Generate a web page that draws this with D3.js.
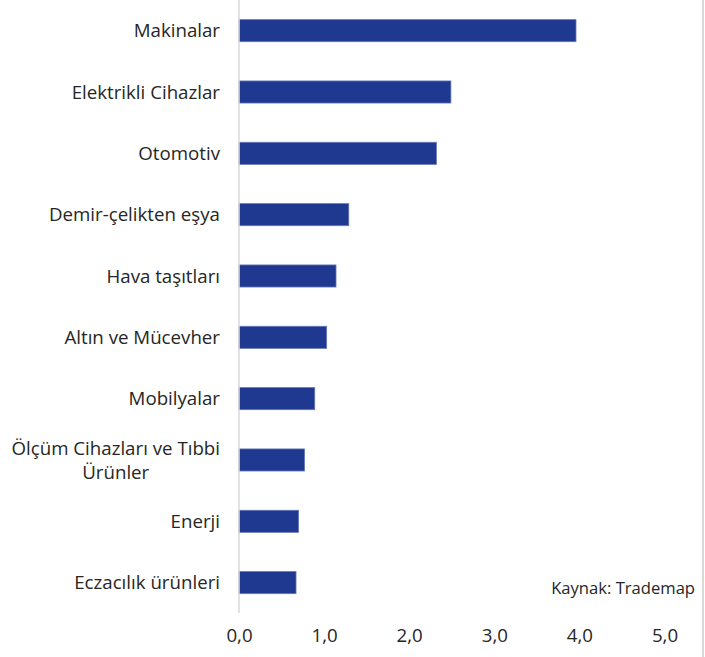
<!DOCTYPE html>
<html><head><meta charset="utf-8">
<script src="https://cdn.jsdelivr.net/npm/d3@7"></script>
<style>
html,body{margin:0;padding:0;background:#fff;}
svg{display:block;}
text{font-family:"Open Sans",sans-serif;fill:#262626;}
</style></head>
<body><svg id="c" width="705" height="657"></svg>
<script>
const categories = ["Makinalar","Elektrikli Cihazlar","Otomotiv","Demir-çelikten eşya","Hava taşıtları","Altın ve Mücevher","Mobilyalar","Ölçüm Cihazları ve Tıbbi Ürünler","Enerji","Eczacılık ürünleri"];
const values = [3.96, 2.49, 2.32, 1.29, 1.14, 1.03, 0.89, 0.77, 0.70, 0.67];
const tickValues = [0,1,2,3,4,5];
const tickLabels = ["0,0","1,0","2,0","3,0","4,0","5,0"];
const sourceNote = "Kaynak: Trademap";

const svg = d3.select("#c");
const x = d3.scaleLinear().domain([0,5]).range([239, 664.5]);
const y = d3.scaleBand().domain(categories).range([0, 613.3]).paddingInner(0.64).paddingOuter(0.32);

svg.append("line").attr("x1",703).attr("x2",703).attr("y1",0).attr("y2",657)
  .attr("stroke","#d9d9d9").attr("stroke-width",2);

svg.append("g").selectAll("rect").data(categories).join("rect")
  .attr("x", x(0))
  .attr("y", d => y(d))
  .attr("width", (d,i) => x(values[i]) - x(0))
  .attr("height", y.bandwidth())
  .attr("fill", "#203990")
  .attr("stroke", "#6477b8").attr("stroke-width", 0.8);

svg.append("line").attr("x1",x(0)).attr("x2",x(0)).attr("y1",0).attr("y2",613)
  .attr("stroke","#d9d9d9").attr("stroke-width",1.5);

const fs = 18.7;
const lab = svg.append("g");
categories.forEach((c) => {
  const cy = y(c) + y.bandwidth()/2;
  if (c.startsWith("Ölçüm")) {
    const t1 = lab.append("text").attr("x",220).attr("y",cy-12).attr("dy","0.35em")
      .attr("text-anchor","end").style("font-size",fs+"px").text("Ölçüm Cihazları ve Tıbbi");
    const w = t1.node().getComputedTextLength();
    lab.append("text").attr("x",220 - w/2).attr("y",cy+12).attr("dy","0.35em")
      .attr("text-anchor","middle").style("font-size",fs+"px").text("Ürünler");
  } else {
    lab.append("text").attr("x",220).attr("y",cy).attr("dy","0.35em")
      .attr("text-anchor","end").style("font-size",fs+"px").text(c);
  }
});

const xAxis = d3.axisBottom(x).tickValues(tickValues).tickSize(0).tickPadding(0)
  .tickFormat((d,i) => tickLabels[i]);
const gx = svg.append("g").attr("transform","translate(0,629)").call(xAxis);
gx.select(".domain").remove();
gx.selectAll("text").attr("dy","0.71em").style("font-size",fs+"px").style("font-family","'Open Sans',sans-serif").attr("fill","#262626");

svg.append("text").attr("x",695).attr("y",588).attr("dy","0.35em").attr("text-anchor","end")
  .style("font-size","16.6px").text(sourceNote);
</script></body></html>
